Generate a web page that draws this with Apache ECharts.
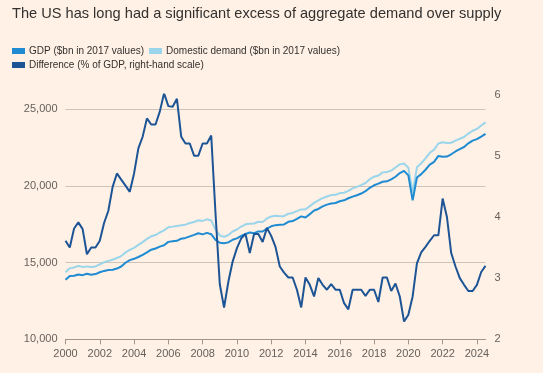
<!DOCTYPE html>
<html>
<head>
<meta charset="utf-8">
<script src="https://cdn.jsdelivr.net/npm/echarts@6/dist/echarts.min.js"></script>
<style>
html,body{margin:0;padding:0;background:#fff1e5;}
#chart{width:543px;height:373px;}
</style>
</head>
<body>
<div id="chart"></div>
<script>
// Quarterly observations, 2000 Q1 to 2024 Q3
const startYear = 2000;
const tickYears = [2000, 2002, 2004, 2006, 2008, 2010, 2012, 2014, 2016, 2018, 2020, 2022, 2024];
const leftTicks = [10000, 15000, 20000, 25000];
const rightTicks = [2, 3, 4, 5, 6];

const gdp = [
  13878, 14131, 14145, 14229,
  14183, 14272, 14214, 14253,
  14372, 14461, 14520, 14538,
  14615, 14747, 14991, 15163,
  15249, 15367, 15513, 15671,
  15845, 15923, 16047, 16137,
  16354, 16397, 16420, 16561,
  16611, 16713, 16809, 16915,
  16844, 16943, 16854, 16485,
  16299, 16270, 16321, 16491,
  16583, 16744, 16872, 16961,
  16921, 17035, 17032, 17223,
  17367, 17445, 17470, 17489,
  17662, 17709, 17861, 18016,
  17944, 18161, 18400, 18500,
  18666, 18783, 18857, 18892,
  19002, 19062, 19198, 19304,
  19398, 19507, 19660, 19882,
  20044, 20151, 20276, 20304,
  20431, 20602, 20844, 20985,
  20693, 19056, 20549, 20772,
  21058, 21390, 21571, 21960,
  21904, 21919, 22066, 22250,
  22404, 22540, 22780, 22960,
  23054, 23224, 23400
];

const domesticDemand = [
  14379, 14626, 14684, 14785,
  14722, 14756, 14711, 14752,
  14891, 15025, 15115, 15191,
  15303, 15427, 15667, 15832,
  15967, 16154, 16337, 16550,
  16718, 16800, 16965, 17108,
  17304, 17348, 17394, 17440,
  17475, 17582, 17649, 17761,
  17720, 17824, 17752, 17154,
  16772, 16680, 16801, 17030,
  17162, 17355, 17500, 17539,
  17550, 17669, 17643, 17881,
  18008, 18057, 18027, 18029,
  18194, 18242, 18363, 18470,
  18484, 18686, 18897, 19055,
  19205, 19311, 19404, 19423,
  19536, 19556, 19676, 19846,
  19943, 20055, 20193, 20441,
  20607, 20677, 20886, 20915,
  21001, 21202, 21407, 21466,
  21190, 19571, 21215, 21482,
  21797, 22162, 22369, 22773,
  22846, 22796, 22818, 22960,
  23076, 23191, 23416, 23601,
  23720, 23944, 24149
];

const differencePct = [
  3.61, 3.50, 3.81, 3.91,
  3.80, 3.39, 3.50, 3.50,
  3.61, 3.90, 4.10, 4.49,
  4.71, 4.61, 4.51, 4.41,
  4.71, 5.12, 5.31, 5.61,
  5.51, 5.51, 5.72, 6.02,
  5.81, 5.80, 5.93, 5.31,
  5.20, 5.20, 5.00, 5.00,
  5.20, 5.20, 5.33, 4.06,
  2.90, 2.52, 2.94, 3.27,
  3.49, 3.65, 3.72, 3.41,
  3.72, 3.72, 3.59, 3.82,
  3.69, 3.51, 3.19, 3.09,
  3.01, 3.01, 2.81, 2.52,
  3.01, 2.89, 2.70, 3.00,
  2.89, 2.81, 2.90, 2.81,
  2.81, 2.59, 2.49, 2.81,
  2.81, 2.81, 2.71, 2.81,
  2.81, 2.61, 3.01, 3.01,
  2.79, 2.91, 2.70, 2.29,
  2.40, 2.70, 3.24, 3.42,
  3.51, 3.61, 3.70, 3.70,
  4.30, 4.00, 3.41, 3.19,
  3.00, 2.89, 2.79, 2.79,
  2.89, 3.10, 3.20
];

const seriesNames = [
  'GDP ($bn in 2017 values)',
  'Domestic demand ($bn in 2017 values)',
  'Difference (% of GDP, right-hand scale)'
];
const titleText = 'The US has long had a significant excess of aggregate demand over supply';

const quarterX = gdp.map((_, i) => startYear + i / 4);
const pairs = arr => arr.map((v, i) => [quarterX[i], v]);

const FONT = 'Liberation Sans, Arial, sans-serif';
const chart = echarts.init(document.getElementById('chart'), null, {renderer: 'canvas'});
chart.setOption({
  backgroundColor: '#fff1e5',
  animation: false,
  textStyle: {fontFamily: FONT},
  title: {
    text: titleText,
    left: 12, top: 6, padding: 0,
    textStyle: {fontSize: 14.6, fontWeight: 'normal', color: '#33302e', fontFamily: FONT}
  },
  legend: [
    {
      data: [seriesNames[0], seriesNames[1]],
      left: 12, top: 46, padding: 0, itemGap: 5,
      icon: 'rect', itemWidth: 13, itemHeight: 6,
      textStyle: {fontSize: 10, color: '#33302e', fontFamily: FONT, padding: [0, 0, 0, -1]}
    },
    {
      data: [seriesNames[2]],
      left: 12, top: 60, padding: 0, itemGap: 5,
      icon: 'rect', itemWidth: 13, itemHeight: 6,
      textStyle: {fontSize: 10, color: '#33302e', fontFamily: FONT, padding: [0, 0, 0, -1]}
    }
  ],
  grid: {left: 65.5, right: 57.5, top: 94.5, bottom: 33.7, containLabel: false},
  xAxis: {
    type: 'value', min: 2000, max: 2024.5,
    axisLine: {show: true, lineStyle: {color: '#9e968e', width: 1}},
    axisTick: {show: true, length: 5, lineStyle: {color: '#9e968e'}, customValues: tickYears},
    axisLabel: {customValues: tickYears, color: '#66605c', fontSize: 11, margin: 9, fontFamily: FONT,
      formatter: v => String(Math.round(v))},
    splitLine: {show: false}
  },
  yAxis: [
    {
      type: 'value', position: 'left', min: 10000, max: 25965, interval: 5000,
      axisLine: {show: false}, axisTick: {show: false},
      axisLabel: {customValues: leftTicks, color: '#66605c', fontSize: 11, margin: 8, fontFamily: FONT,
        formatter: v => v.toLocaleString('en-US')},
      splitLine: {show: true, showMinLine: false, showMaxLine: false, lineStyle: {color: '#cdc3b7', width: 1}}
    },
    {
      type: 'value', position: 'right', min: 2, max: 6, interval: 1,
      axisLine: {show: false}, axisTick: {show: false},
      axisLabel: {customValues: rightTicks, color: '#66605c', fontSize: 11, margin: 9, fontFamily: FONT},
      splitLine: {show: false}
    }
  ],
  series: [
    {
      name: seriesNames[0], type: 'line', yAxisIndex: 0, showSymbol: false, symbol: 'none',
      data: pairs(gdp), color: '#1e8bd2', lineStyle: {width: 2, color: '#1e8bd2'}, z: 3
    },
    {
      name: seriesNames[1], type: 'line', yAxisIndex: 0, showSymbol: false, symbol: 'none',
      data: pairs(domesticDemand), color: '#9ad5eb', lineStyle: {width: 2, color: '#9ad5eb'}, z: 2
    },
    {
      name: seriesNames[2], type: 'line', yAxisIndex: 1, showSymbol: false, symbol: 'none',
      data: pairs(differencePct), color: '#1d5495', lineStyle: {width: 2, color: '#1d5495'}, z: 4
    }
  ]
});
</script>
</body>
</html>
